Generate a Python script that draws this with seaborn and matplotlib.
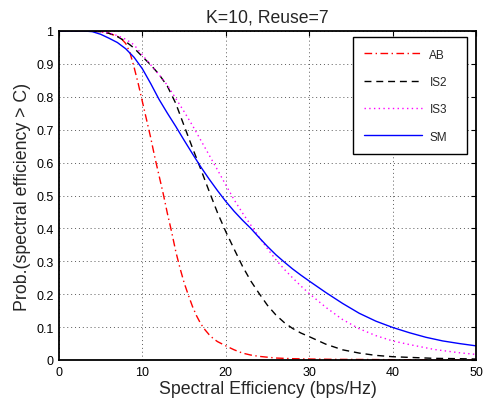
import numpy as np
import pandas as pd
import matplotlib
matplotlib.use("Agg")
import matplotlib.pyplot as plt
import seaborn as sns

# ---- data ----
ab_x = [0, 3, 5, 6, 7, 7.5, 8, 8.5, 9, 9.5, 10, 10.5, 11, 11.5, 12, 12.5, 13, 13.5, 14, 14.5,
        15, 15.5, 16, 16.5, 17, 17.5, 18, 18.5, 19, 20, 21, 22, 23, 24, 26, 28, 30, 33, 37, 40, 45, 50]
ab_y = [1, 1, 0.998, 0.993, 0.984, 0.976, 0.962, 0.935, 0.89, 0.84, 0.785, 0.73, 0.675, 0.615,
        0.56, 0.505, 0.445, 0.39, 0.33, 0.28, 0.235, 0.198, 0.163, 0.134, 0.11, 0.092, 0.077,
        0.065, 0.056, 0.043, 0.031, 0.021, 0.015, 0.011, 0.006, 0.004, 0.003, 0.002, 0.0015, 0.001, 0.0005, 0.0003]

is2_x = [0, 4, 5, 6, 7, 8, 9, 10, 11, 12, 13, 14, 15, 16, 17, 18, 19, 20, 21, 22, 23, 24, 25,
         26, 27, 28, 29, 30, 32, 34, 36, 38, 40, 42, 45, 48, 50]
is2_y = [1, 1, 0.998, 0.993, 0.983, 0.968, 0.948, 0.922, 0.897, 0.868, 0.832, 0.78, 0.712,
         0.645, 0.58, 0.513, 0.448, 0.39, 0.337, 0.285, 0.24, 0.202, 0.166, 0.137, 0.114, 0.096,
         0.082, 0.071, 0.048, 0.031, 0.021, 0.014, 0.01, 0.008, 0.005, 0.004, 0.003]

is3_x = [0, 4, 5, 6, 7, 8, 9, 10, 11, 12, 13, 14, 15, 16, 17, 18, 19, 20, 21, 22, 23, 24, 25,
         26, 27, 28, 29, 30, 32, 34, 36, 38, 40, 42, 45, 48, 50]
is3_y = [1, 1, 0.998, 0.994, 0.986, 0.975, 0.958, 0.927, 0.897, 0.867, 0.835, 0.795, 0.755,
         0.713, 0.668, 0.623, 0.578, 0.532, 0.487, 0.447, 0.41, 0.373, 0.338, 0.305, 0.276, 0.25,
         0.225, 0.202, 0.16, 0.123, 0.095, 0.074, 0.058, 0.047, 0.032, 0.022, 0.017]

sm_x = [0, 3, 4, 5, 6, 7, 8, 9, 10, 11, 12, 13, 14, 15, 16, 17, 18, 19, 20, 21, 22, 23, 24, 25,
        26, 27, 28, 29, 30, 32, 34, 36, 38, 40, 42, 44, 46, 48, 50]
sm_y = [1, 1, 0.998, 0.99, 0.978, 0.965, 0.946, 0.92, 0.885, 0.84, 0.792, 0.75, 0.71, 0.668,
        0.627, 0.587, 0.55, 0.515, 0.482, 0.452, 0.425, 0.4, 0.372, 0.345, 0.32, 0.298, 0.277,
        0.258, 0.24, 0.205, 0.172, 0.142, 0.118, 0.099, 0.083, 0.069, 0.058, 0.05, 0.043]

series_names = ["AB", "IS2", "IS3", "SM"]
title_text = "K=10, Reuse=7"
xlabel_text = "Spectral Efficiency (bps/Hz)"
ylabel_text = "Prob.(spectral efficiency > C)"
x_ticks = [0, 10, 20, 30, 40, 50]
y_ticks = [0, 0.1, 0.2, 0.3, 0.4, 0.5, 0.6, 0.7, 0.8, 0.9, 1]
y_tick_labels = ["0", "0.1", "0.2", "0.3", "0.4", "0.5", "0.6", "0.7", "0.8", "0.9", "1"]

frames = []
for name, xs, ys in zip(series_names, [ab_x, is2_x, is3_x, sm_x], [ab_y, is2_y, is3_y, sm_y]):
    frames.append(pd.DataFrame({"x": xs, "y": ys, "series": name}))
df = pd.concat(frames, ignore_index=True)

sns.set_style("white")
plt.rcParams["font.family"] = ["Liberation Sans", "DejaVu Sans"]

fig = plt.figure(figsize=(4.9, 4.06), dpi=100)
ax = fig.add_axes([59 / 490, 1 - 361 / 406, (476 - 59) / 490, (361 - 32) / 406])

styles = {
    "AB": dict(color="#ff0000", dashes=(5.5, 2.5, 1, 2.5)),
    "IS2": dict(color="#000000", dashes=(5, 3.5)),
    "IS3": dict(color="#ff00ff", dashes=(1, 2.4)),
    "SM": dict(color="#0000ff", dashes=None),
}
for name in series_names:
    sub = df[df["series"] == name]
    st = styles[name]
    sns.lineplot(data=sub, x="x", y="y", ax=ax, sort=False, estimator=None,
                 color=st["color"], linewidth=1.0, label=name)
    ln = ax.get_lines()[-1]
    if st["dashes"] is not None:
        ln.set_dashes(st["dashes"])

ax.set_xlim(0, 50)
ax.set_ylim(0, 1)
ax.set_xticks(x_ticks)
ax.set_xticklabels([str(t) for t in x_ticks])
ax.set_yticks(y_ticks)
ax.set_yticklabels(y_tick_labels)
ax.tick_params(direction="in", length=3.5, width=0.8, top=True, right=True,
               labelsize=9, pad=4, colors="black")
ax.grid(True, linestyle=(0, (1, 3)), color="0.35", linewidth=0.7)
for sp in ax.spines.values():
    sp.set_visible(True)
    sp.set_color("black")
    sp.set_linewidth(1.3)

ax.set_xlabel(xlabel_text, fontsize=12.8, labelpad=2)
ax.set_ylabel(ylabel_text, fontsize=12.8, labelpad=4)
ax.set_title(title_text, fontsize=12.7, pad=7)

handles, labels = ax.get_legend_handles_labels()
leg = ax.legend(handles, labels, loc="upper right",
                bbox_to_anchor=((352.7 - 59) / 417, (361 - 153.3) / 329, (467.3 - 352.7) / 417, (153.3 - 38.3) / 329),
                mode="expand", borderaxespad=0, fontsize=8.5, handlelength=4.9,
                handletextpad=0.65, labelspacing=1.3, borderpad=0.95,
                fancybox=False, frameon=True, framealpha=1)
leg.get_frame().set_edgecolor("black")
leg.get_frame().set_linewidth(1.0)

fig.savefig("out.png", dpi=100)
